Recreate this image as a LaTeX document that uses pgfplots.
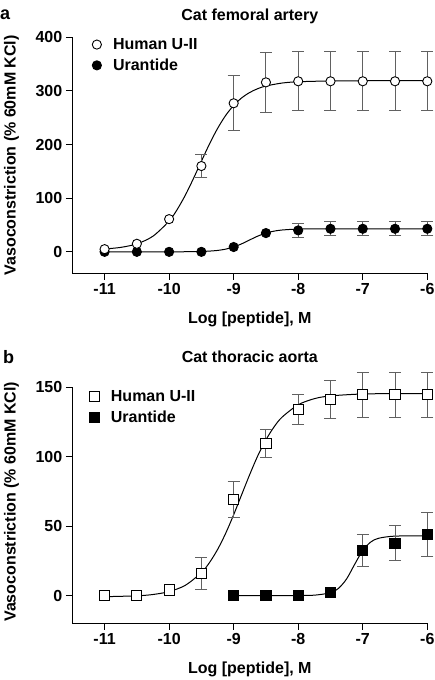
\documentclass[border=0pt]{standalone}
\usepackage{fontspec}
\setmainfont{Liberation Sans}
\usepackage{pgfplots}
\usepackage{pgfplotstable}
\pgfplotsset{compat=1.18}

% ---------- panel a data ----------
\pgfplotstableread{
x y
-11 5
-10.5 15
-10 61
-9.5 160
-9 277
-8.5 316
-8 318
-7.5 318
-7 318
-6.5 318
-6 318
}\aHu
\pgfplotstableread{
x y e
-9.5 160 21
-9 277 51
-8.5 316 56
-8 318 55
-7.5 318 55
-7 318 55
-6.5 318 55
-6 318 55
}\aHuErr
\pgfplotstableread{
x y
-11 0
-10.5 0
-10 0
-9.5 0
-9 9
-8.5 35
-8 40
-7.5 43
-7 43
-6.5 43
-6 43
}\aUr
\pgfplotstableread{
x y e
-8 40 13
-7.5 43 13
-7 43 13
-6.5 43 13
-6 43 13
}\aUrErr
\pgfplotstableread{
x y
-11 5.3
-10.75 8.3
-10.5 14.9
-10.25 29.2
-10 57.5
-9.875 78.9
-9.75 105.4
-9.625 136.2
-9.5 168.9
-9.375 201.0
-9.25 229.9
-9.125 254.1
-9 273.0
-8.875 287.1
-8.75 297.2
-8.625 304.3
-8.5 309.2
-8.25 314.7
-8 317.1
-7.5 318.6
-7 319
-6 319
}\aHuFit
\pgfplotstableread{
x y
-11 0
-10 0
-9.75 0.2
-9.5 0.7
-9.375 1.4
-9.25 2.6
-9.125 5.0
-9 9.0
-8.875 15.0
-8.75 22.3
-8.625 29.4
-8.5 35.0
-8.375 38.6
-8.25 40.7
-8 42.4
-7.5 43
-6 43
}\aUrFit

% ---------- panel b data ----------
\pgfplotstableread{
x y
-11 0
-10.5 0
-10 4
-9.5 16
-9 69
-8.5 109.4
-8 134
-7.5 141.3
-7 144.6
-6.5 144.6
-6 144.6
}\bHu
\pgfplotstableread{
x y e
-9.5 16 11.5
-9 69 13
-8.5 109.4 10
-8 134 11
-7.5 141.3 13.5
-7 144.6 16
-6.5 144.6 16
-6 144.6 16
}\bHuErr
\pgfplotstableread{
x y
-9 0
-8.5 0
-8 0
-7.5 2
-7 32.4
-6.5 37.6
-6 44
}\bUr
\pgfplotstableread{
x y e
-7 32.4 11.5
-6.5 37.6 12.6
-6 44 16
}\bUrErr
\pgfplotstableread{
x y
-11 -0.84
-10.5 -0.21
-10.25 0.75
-10 2.85
-9.75 7.35
-9.5 16.5
-9.375 23.7
-9.25 33.1
-9.125 44.7
-9 58.2
-8.875 72.8
-8.75 87.3
-8.625 100.8
-8.5 112.2
-8.375 121.4
-8.25 128.5
-8 137.4
-7.75 141.8
-7.5 143.8
-7 145.2
-6.5 145.4
-6 145.5
}\bHuFit
\pgfplotstableread{
x y
-9 0
-8 0.03
-7.75 0.26
-7.5 2.0
-7.375 5.2
-7.25 12.0
-7.125 22.5
-7 32.5
-6.875 38.6
-6.75 41.3
-6.5 42.8
-6 43
}\bUrFit

\newcommand{\fs}{\fontsize{16}{19}\selectfont\bfseries}
\newcommand{\fp}{\fontsize{18}{21}\selectfont\bfseries}

\pgfplotsset{
  myaxis/.style={
    scale only axis, width=355pt, height=236pt,
    anchor=south west, clip=false,
    axis x line*=bottom, axis y line*=left,
    axis line style={-, line width=1pt, black},
    xmin=-11.5, xmax=-6,
    xtick={-11,-10,-9,-8,-7,-6},
    tick align=outside, major tick length=6.5pt,
    tick style={line width=1pt, black},
    /pgf/number format/assume math mode=true,
    ticklabel style={font=\fs},
    xlabel={Log [peptide], M},
    ylabel={Vasoconstriction (\% 60mM KCl)},
    every axis x label/.style={at={(axis description cs:0.5,-0.196)}, anchor=center, font=\fs},
    legend cell align=left,
    legend style={draw=none, fill=none, inner sep=0pt, font=\fs,
      row sep=4pt,
      /tikz/every odd column/.append style={column sep=9pt}},
    legend image code/.code={\draw[##1] plot coordinates {(5pt,0pt)}; \path (0pt,0pt) (10pt,0pt);},
  },
  fitline/.style={black, line width=1pt, mark=none, smooth, forget plot},
  ebar/.style={forget plot, draw=none, mark=none,
    error bars/.cd, y dir=both, y explicit,
    error bar style={color=black!62, line width=0.9pt},
    error mark options={rotate=90, mark size=6pt, color=black!62, line width=0.9pt}},
}

\begin{document}
\begin{tikzpicture}
\useasboundingbox (0,0) rectangle (434pt,680pt);

% ================= panel a =================
\begin{axis}[myaxis, at={(72.3pt,406.7pt)},
  ymin=-40, ymax=400, ytick={0,100,200,300,400},
  every axis y label/.style={at={(axis description cs:-0.171,0.5)}, rotate=90, anchor=center, font=\fs},
  title={Cat femoral artery},
  every axis title/.style={at={(axis description cs:0.5,1.09)}, anchor=center, font=\fs},
  legend style={at={(axis description cs:0.054,1.005)}, anchor=north west},
]
\addlegendimage{only marks, mark=*, mark size=4.6pt, mark options={fill=white, draw=black, line width=0.9pt}}
\addlegendentry{Human U-II}
\addlegendimage{only marks, mark=*, mark size=4.6pt, mark options={fill=black, draw=black, line width=0.9pt}}
\addlegendentry{Urantide}
\addplot[fitline] table[x=x,y=y] {\aUrFit};
\addplot[fitline] table[x=x,y=y] {\aHuFit};
\addplot[ebar] table[x=x,y=y,y error=e] {\aUrErr};
\addplot[ebar] table[x=x,y=y,y error=e] {\aHuErr};
\addplot[forget plot, only marks, mark=*, mark size=4.6pt, mark options={fill=black, draw=black, line width=0.9pt}] table[x=x,y=y] {\aUr};
\addplot[forget plot, only marks, mark=*, mark size=4.6pt, mark options={fill=white, draw=black, line width=0.9pt}] table[x=x,y=y] {\aHu};
\end{axis}
\node[anchor=west, font=\fp, inner sep=0pt] at (0pt,665pt) {a};

% ================= panel b =================
\begin{axis}[myaxis, at={(72.3pt,56.7pt)},
  ymin=-20, ymax=150, ytick={0,50,100,150},
  every axis y label/.style={at={(axis description cs:-0.171,0.515)}, rotate=90, anchor=center, font=\fs},
  title={Cat thoracic aorta},
  every axis title/.style={at={(axis description cs:0.5,1.13)}, anchor=center, font=\fs},
  legend style={at={(axis description cs:0.048,0.996)}, anchor=north west},
]
\addlegendimage{only marks, mark=square*, mark size=5.1pt, mark options={fill=white, draw=black, line width=0.9pt}}
\addlegendentry{Human U-II}
\addlegendimage{only marks, mark=square*, mark size=5.1pt, mark options={fill=black, draw=black, line width=0.9pt}}
\addlegendentry{Urantide}
\addplot[fitline] table[x=x,y=y] {\bUrFit};
\addplot[fitline] table[x=x,y=y] {\bHuFit};
\addplot[ebar] table[x=x,y=y,y error=e] {\bUrErr};
\addplot[ebar] table[x=x,y=y,y error=e] {\bHuErr};
\addplot[forget plot, only marks, mark=square*, mark size=5.1pt, mark options={fill=black, draw=black, line width=0.9pt}] table[x=x,y=y] {\bUr};
\addplot[forget plot, only marks, mark=square*, mark size=5.1pt, mark options={fill=white, draw=black, line width=0.9pt}] table[x=x,y=y] {\bHu};
\end{axis}
\node[anchor=west, font=\fp, inner sep=0pt] at (3pt,323pt) {b};
\end{tikzpicture}
\end{document}
